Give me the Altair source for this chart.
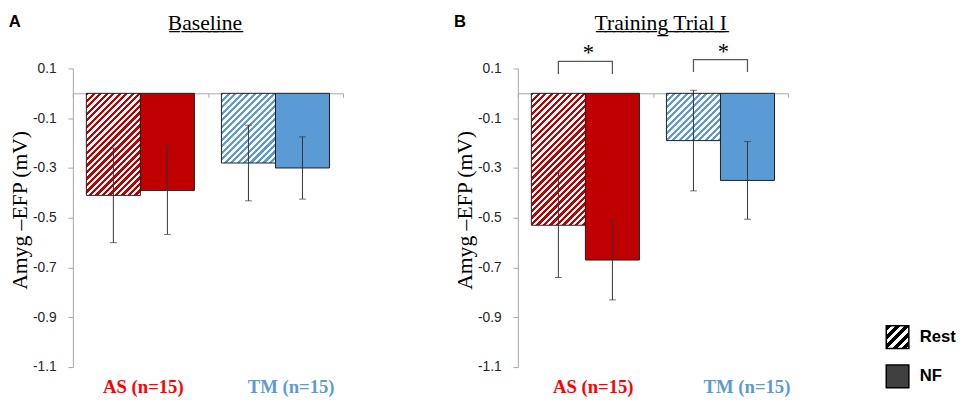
import altair as alt
import pandas as pd

# ---------------- data ----------------
groups = ["AS (n=15)", "TM (n=15)"]
conditions = ["Rest", "NF"]
# order: AS-Rest, AS-NF, TM-Rest, TM-NF
baseline_mean = [-0.41, -0.39, -0.28, -0.30]
baseline_err = [0.19, 0.177, 0.152, 0.125]
trial_mean = [-0.53, -0.67, -0.19, -0.35]
trial_err = [0.21, 0.16, 0.202, 0.156]
sig_top = [0.128, 0.135]
sig_leg = [0.078, 0.086]
sig_marks = ["*", "*"]
y_ticks = [0.1, -0.1, -0.3, -0.5, -0.7, -0.9, -1.1]
panel_titles = ["Baseline", "Training Trial I"]
panel_letters = ["A", "B"]
y_title = "Amyg \u2013EFP (mV)"
legend_labels = ["Rest", "NF"]

# ---------------- style ----------------
RED = "#C00000"
BLUE = "#5B9BD5"
RED_LABEL = "#FF0000"
NF_GRAY = "#404040"
EDGE = "#1f1f1f"
AXIS_GRAY = "#a6a6a6"
ERR = "#333333"
SERIF = "Liberation Serif"
SANS = "Liberation Sans"
W, H = 275, 304
Y_MIN, Y_MAX = -1.1, 0.1
PAD_OUT = 0.25
group_colors = [RED, BLUE]

band = W / len(groups)
bar_w = band / (len(conditions) + 2 * PAD_OUT)
px_per_unit = H / (Y_MAX - Y_MIN)
zero_px = H * Y_MAX / (Y_MAX - Y_MIN)


def hatch_stops(w, h, color, period, duty):
    L = w + h
    stops = []
    i = 0
    while i * period / L < 1:
        a = i * period / L
        b = min((i + duty) * period / L, 1)
        c = min((i + 1) * period / L, 1)
        stops += [(a, color), (b, color), (b, "white"), (c, "white")]
        i += 1
    return stops


def hatch_gradient(w, h, color, period=6.6, duty=0.5):
    k = (w + h) / (w * w + h * h)
    stops = hatch_stops(w, h, color, period, duty)
    return {
        "gradient": "linear",
        "x1": 0, "y1": 0, "x2": k * w, "y2": k * h,
        "stops": [{"offset": round(o, 5), "color": c} for o, c in stops],
    }


def hatch_expr(color, period=9.5, duty=0.55, size=23):
    stops = hatch_stops(size, size, color, period, duty)
    s = ", ".join("{offset: %.5f, color: '%s'}" % (o, c) for o, c in stops)
    return "{gradient: 'linear', x1: 0, y1: 0, x2: 1, y2: 1, stops: [" + s + "]}"


def underline(t):
    return "".join(ch + "\u0332" for ch in t)


x_scale = alt.Scale(domain=groups, paddingInner=0, paddingOuter=0)
xo_scale = alt.Scale(domain=conditions, paddingInner=0, paddingOuter=PAD_OUT)
y_scale = alt.Scale(domain=[Y_MIN, Y_MAX], nice=False, zero=False)

y_axis = alt.Axis(
    values=y_ticks,
    labelExpr="datum.value < 0 ? '-' + format(-datum.value, '.1f') : format(datum.value, '.1f')",
    title=y_title, titleFont=SERIF, titleFontSize=22, titleFontWeight="normal",
    titleColor="black", titlePadding=1, titleY=144,
    labelFont=SANS, labelFontSize=14, labelColor="#262626", labelPadding=12,
    domainColor=AXIS_GRAY, tickColor=AXIS_GRAY, tickSize=5, grid=False,
)

x_axis_zero = alt.Axis(
    orient="bottom", offset=-(H - zero_px), labels=False, title=None,
    domainColor=AXIS_GRAY, tickColor=AXIS_GRAY, tickSize=4, tickBand="extent",
    grid=False,
)


def x_axis_labels(offsets):
    test = "datum.value == '%s'" % groups[0]
    return alt.Axis(
        orient="bottom", domain=False, ticks=False, title=None, grid=False,
        labelFont=SERIF, labelFontSize=19, labelFontWeight="bold", labelAngle=0,
        labelPadding=11,
        labelColor={"condition": {"test": test, "value": RED_LABEL}, "value": BLUE},
        labelOffset={"condition": {"test": test, "value": offsets[0]}, "value": offsets[1]},
    )


def X(axis=None):
    return alt.X("group:N", scale=x_scale, axis=axis, title=None)


XO = alt.XOffset("cond:N", scale=xo_scale)


def Y(field):
    return alt.Y(field + ":Q", scale=y_scale, axis=y_axis)


def panel_df(means, errs):
    rows = []
    for gi, g in enumerate(groups):
        for ci, c in enumerate(conditions):
            i = gi * len(conditions) + ci
            rows.append({"group": g, "cond": c, "key": "%d-%d" % (gi, ci),
                         "mean": means[i], "lo": means[i] - errs[i], "hi": means[i] + errs[i]})
    return pd.DataFrame(rows)


def make_panel(idx, means, errs, label_off, title_offset, title_dx, sig=False, legend=False):
    df = panel_df(means, errs)
    base = alt.Chart(df)
    layers = []
    # hatched "Rest" bars
    for gi in range(len(groups)):
        m = means[gi * len(conditions)]
        grad = hatch_gradient(bar_w, abs(m) * px_per_unit, group_colors[gi])
        layers.append(
            base.transform_filter(alt.datum.key == "%d-0" % gi)
            .mark_bar(fill=grad, stroke=EDGE, strokeWidth=1)
            .encode(x=X(), xOffset=XO, y=Y("mean"), y2=alt.datum(0))
        )
    # solid "NF" bars
    layers.append(
        base.transform_filter(alt.datum.cond == conditions[1])
        .mark_bar(stroke=EDGE, strokeWidth=1)
        .encode(
            x=X(x_axis_zero), xOffset=XO, y=Y("mean"), y2=alt.datum(0),
            color=alt.Color("group:N", scale=alt.Scale(domain=groups, range=group_colors), legend=None),
        )
    )
    # error bars
    layers.append(
        base.mark_rule(color=ERR, strokeWidth=1)
        .encode(x=X(x_axis_labels(label_off)), xOffset=XO, y=Y("lo"), y2="hi:Q")
    )
    for f in ["lo", "hi"]:
        layers.append(
            base.mark_tick(orient="horizontal", size=7, thickness=1, color=ERR)
            .encode(x=X(), xOffset=XO, y=Y(f))
        )
    if sig:
        rows = []
        for gi, g in enumerate(groups):
            pts = [(conditions[0], sig_leg[gi]), (conditions[0], sig_top[gi]),
                   (conditions[1], sig_top[gi]), (conditions[1], sig_leg[gi])]
            for o, (c, v) in enumerate(pts):
                rows.append({"group": g, "cond": c, "y": v, "ord": o})
        sdf = pd.DataFrame(rows)
        layers.append(
            alt.Chart(sdf).mark_line(color="#595959", strokeWidth=1.3)
            .encode(x=X(), xOffset=XO, y=Y("y"), detail="group:N", order="ord:Q")
        )
        stars = pd.DataFrame({"group": groups, "top": sig_top, "star": sig_marks})
        layers.append(
            alt.Chart(stars).mark_text(font=SERIF, fontSize=23, color="black", baseline="alphabetic", dy=-1, dx=3)
            .encode(x=X(), y=Y("top"), text="star:N")
        )
    if legend:
        ldf = pd.DataFrame({"cond": legend_labels})
        layers.append(
            alt.Chart(ldf).transform_filter("false")
            .mark_square(filled=True, opacity=1, stroke="black", strokeWidth=1.5)
            .encode(
                fill=alt.Fill(
                    "cond:N",
                    scale=alt.Scale(domain=legend_labels, range=[{"expr": hatch_expr("black")}, NF_GRAY]),
                    legend=alt.Legend(
                        title=None, orient="none", legendX=827, legendY=261,
                        symbolType="square", symbolSize=529, symbolOpacity=1,
                        symbolStrokeColor="black", symbolStrokeWidth=1.5,
                        labelFont=SANS, labelFontSize=17, labelFontWeight="bold",
                        labelColor="black", labelOffset=10, rowPadding=11,
                    ),
                )
            )
        )
    panel = (
        alt.layer(*layers)
        .resolve_axis(x="independent")
        .properties(
            width=W, height=H,
            title=alt.Title(underline(panel_titles[idx]), font=SERIF, fontSize=22,
                            fontWeight="normal", color="black", anchor="middle",
                            offset=title_offset, dx=title_dx),
        )
    )
    return alt.vconcat(
        panel,
        title=alt.Title(panel_letters[idx], font=SANS, fontSize=17, fontWeight="bold",
                        color="black", anchor="start", offset=-19),
    )


pA = make_panel(0, baseline_mean, baseline_err, [3, 16], 27.5, -3)
pB = make_panel(1, trial_mean, trial_err, [8, 27], 6.5, 8, sig=True, legend=True)

chart = (
    alt.hconcat(pA, pB, spacing=111)
    .properties(padding=0)
    .configure_view(stroke=None)
)

chart.save("out.html", embed_options={"renderer": "svg", "actions": False})
